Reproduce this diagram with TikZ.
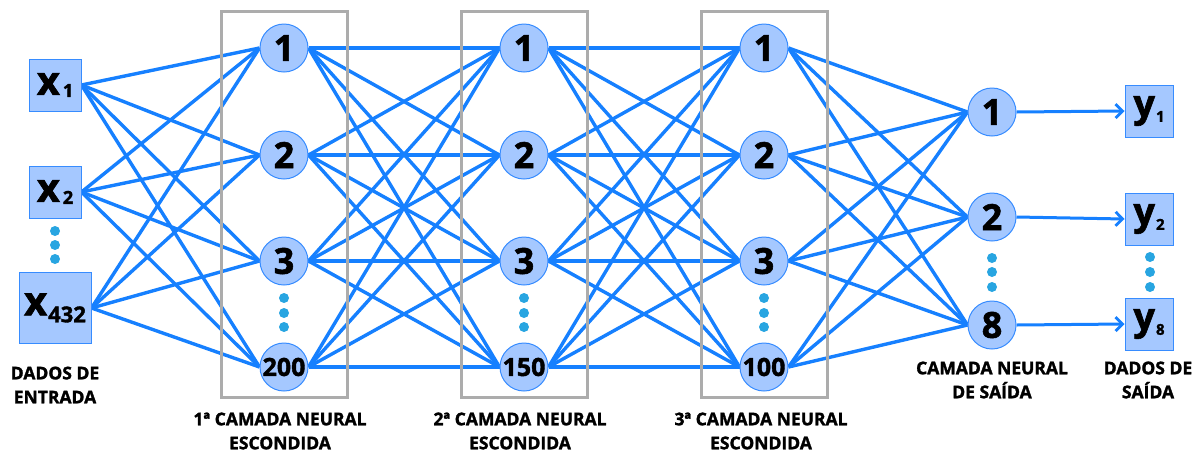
\documentclass[tikz,border=0pt]{standalone}
\usepackage{fontspec}
\setmainfont{Open Sans}[BoldFeatures={FakeBold=1.6}]
\usetikzlibrary{arrows.meta,backgrounds}
\definecolor{edgeblue}{RGB}{22,128,255}
\definecolor{nodefill}{RGB}{165,200,255}
\definecolor{nodeline}{RGB}{55,140,255}
\definecolor{dotblue}{RGB}{40,165,225}
\definecolor{framegray}{RGB}{172,172,172}
\begin{document}
\begin{tikzpicture}[x=1pt,y=-1pt,
  neuron/.style={circle,draw=nodeline,fill=nodefill,line width=1pt,minimum size=48pt,inner sep=0pt,
    font=\fontsize{36}{36}\selectfont\bfseries},
  wideneuron/.style={neuron,font=\fontsize{25}{25}\selectfont\bfseries},
  databox/.style={draw=nodeline,fill=nodefill,line width=1pt,inner sep=0pt,font=\bfseries},
  link/.style={draw=edgeblue,line width=3.4pt},
  outlink/.style={draw=edgeblue,line width=3pt,-{Straight Barb[length=7pt,width=14pt,line width=2.8pt]}},
  layerframe/.style={draw=framegray,line width=3pt},
  dot/.style={circle,fill=dotblue,inner sep=0pt,minimum size=10pt},
  caption/.style={font=\fontsize{17.5}{24}\selectfont\bfseries,align=center}
]
\useasboundingbox (0,0) rectangle (1199,456);

% frames around the hidden layers
\foreach \cx in {284,524,764}
  \draw[layerframe] (\cx-63,11) rectangle (\cx+63,397);

% input data
\node[databox,minimum width=52pt,minimum height=52pt] (x1) at (55,85)
  {\fontsize{40}{40}\selectfont x\kern3pt\raisebox{-2pt}{\fontsize{18}{18}\selectfont 1}};
\node[databox,minimum width=52pt,minimum height=52pt] (x2) at (55,192)
  {\fontsize{40}{40}\selectfont x\kern3pt\raisebox{-2pt}{\fontsize{18}{18}\selectfont 2}};
\node[databox,minimum width=72pt,minimum height=71pt] (x3) at (55,308)
  {\fontsize{40}{40}\selectfont x\kern1pt\raisebox{-7pt}{\fontsize{22}{22}\selectfont 432}};

% hidden layers
\foreach \L/\cx/\last in {a/284/200,b/524/150,c/764/100}{
  \node[neuron] (\L1) at (\cx,48) {1};
  \node[neuron] (\L2) at (\cx,155) {2};
  \node[neuron] (\L3) at (\cx,261) {3};
  \node[wideneuron] (\L4) at (\cx,367) {\last};
  \foreach \dy in {298,313,327}
    \node[dot] at (\cx,\dy) {};
}

% output layer
\node[neuron] (o1) at (992,112) {1};
\node[neuron] (o2) at (992,217) {2};
\node[neuron] (o3) at (992,325) {8};

% output data
\node[databox,minimum width=48pt,minimum height=52pt] (y1) at (1149,111)
  {\fontsize{38}{38}\selectfont y\kern1pt\raisebox{-5pt}{\fontsize{15}{15}\selectfont 1}};
\node[databox,minimum width=48pt,minimum height=52pt] (y2) at (1149,219)
  {\fontsize{38}{38}\selectfont y\kern1pt\raisebox{-5pt}{\fontsize{15}{15}\selectfont 2}};
\node[databox,minimum width=48pt,minimum height=52pt] (y3) at (1149,324)
  {\fontsize{38}{38}\selectfont y\kern1pt\raisebox{-5pt}{\fontsize{15}{15}\selectfont 8}};

% ellipsis dots
\foreach \dy in {231,245,259} \node[dot] at (55,\dy) {};
\foreach \dy in {258,272,287} \node[dot] at (992,\dy) {};
\foreach \dy in {257,272,287} \node[dot] at (1150,\dy) {};

% fully connected links
\begin{scope}[on background layer]
  \foreach \i in {1,2,3}
    \foreach \j in {1,2,3,4}
      \draw[link] (x\i.east) -- (a\j.west);
  \foreach \i in {1,2,3,4}
    \foreach \j in {1,2,3,4}{
      \draw[link] (a\i.east) -- (b\j.west);
      \draw[link] (b\i.east) -- (c\j.west);
    }
  \foreach \i in {1,2,3,4}
    \foreach \j in {1,2,3}
      \draw[link] (c\i.east) -- (o\j.west);
\end{scope}
\foreach \j in {1,2,3}
  \draw[outlink] (o\j.east) -- (y\j.west);

% captions
\node[caption] (cin) at (55,385) {DADOS DE\\ENTRADA};
\node[caption] (ca) at (280,431) {1ª CAMADA NEURAL\\ESCONDIDA};
\node[caption] (cb) at (520,431) {2ª CAMADA NEURAL\\ESCONDIDA};
\node[caption] (cc) at (761,431) {3ª CAMADA NEURAL\\ESCONDIDA};
\node[caption] (co) at (992,380) {CAMADA NEURAL\\DE SAÍDA};
\node[caption] (cy) at (1148,380) {DADOS DE\\SAÍDA};
\end{tikzpicture}
\end{document}
